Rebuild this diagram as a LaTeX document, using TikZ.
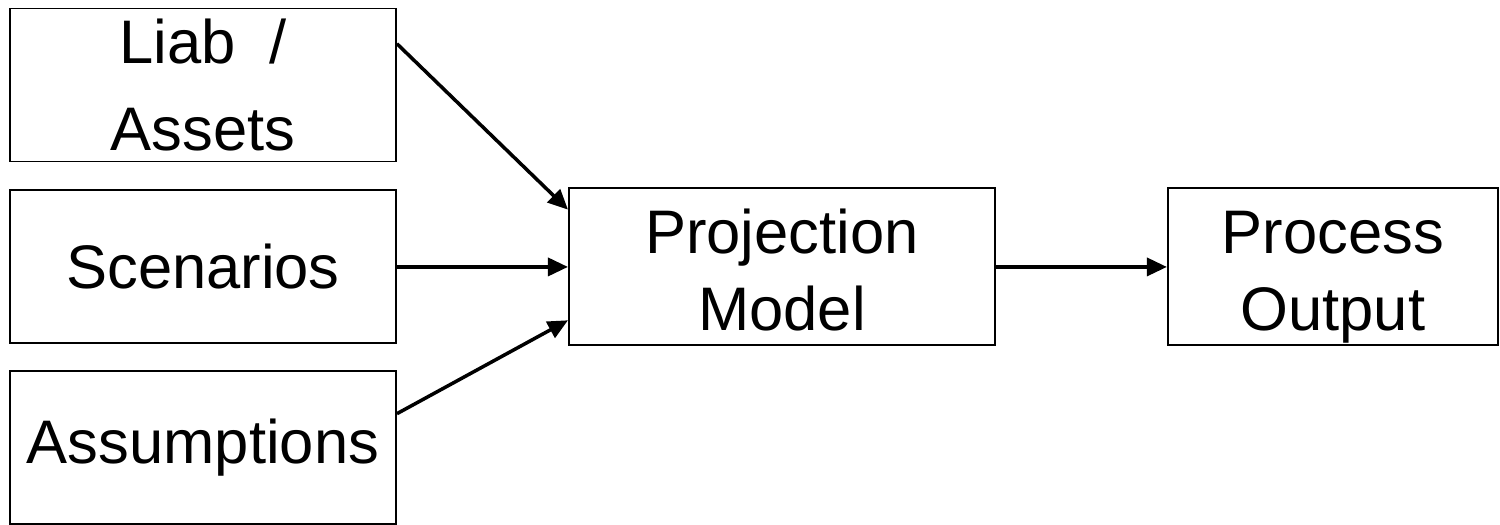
\documentclass[tikz,border=0pt]{standalone}
\usepackage{fontspec}
\setmainfont{Liberation Sans}
\usetikzlibrary{positioning,arrows.meta}
\newcommand{\hstrut}{\rule{0pt}{36pt}}
\newcommand{\dstrut}{\rule[-7.5pt]{0pt}{0pt}}

\begin{document}
\begin{tikzpicture}[
    input box/.style={draw, line width=1.1pt, minimum width=7.72cm, minimum height=3.06cm, align=center, inner sep=0pt, font=\fontsize{35}{44}\selectfont},
    model box/.style={input box, minimum height=3.14cm},
    arrow/.style={-{Triangle[length=0.4cm,width=0.36cm]}, line width=2pt}
]
\useasboundingbox (0,0) rectangle (30,-10.48);

% Inputs on the left
\node[input box] (liab) at (4.06,-1.70) {Liab\ \ /\\[5pt]Assets};
\node[input box, below=0.54cm of liab] (scen) {Scenarios};
\node[input box, below=0.52cm of scen] (assum) {Assumptions};

% Model and output
\node[model box, minimum width=8.52cm, right=3.42cm of scen] (proj) {\hstrut Projection\\Model\dstrut};
\node[model box, minimum width=6.6cm, right=3.42cm of proj] (output) {\hstrut Process\\Output\dstrut};

% Arrows
\draw[arrow] (liab.12) -- (proj.165);
\draw[arrow] (scen.east) -- (proj.west);
\draw[arrow] (assum.10) -- (proj.194);
\draw[arrow] (proj.east) -- (output.west);

\end{tikzpicture}
\end{document}
